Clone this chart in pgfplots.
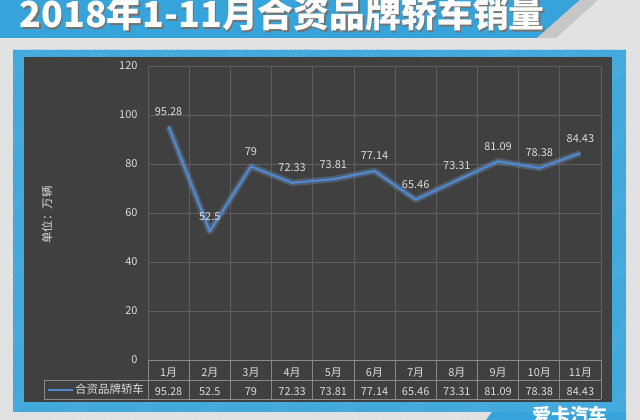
\documentclass[border=0pt]{standalone}
\usepackage{fontspec}
\setmainfont{Noto Sans CJK SC}
\usepackage{pgfplots}
\pgfplotsset{compat=1.18}
\usetikzlibrary{patterns}

\definecolor{bg}{HTML}{E3E3E3}
\definecolor{frameblue}{HTML}{36A4DA}
\definecolor{panel}{HTML}{404040}
\definecolor{gridc}{HTML}{5E5E5E}
\definecolor{txt}{HTML}{DCDCDC}
\definecolor{lineblue}{HTML}{5089CF}
\definecolor{tabline}{HTML}{8A8A8A}

\begin{document}
\begin{tikzpicture}
\useasboundingbox (0,0) rectangle (640bp,420bp);
\clip (0,0) rectangle (640bp,420bp);
\begin{scope}[x=1bp,y=-1bp,yshift=420bp]
\fill[bg] (0,0) rectangle (640,420);
\fill[pattern=north east lines, pattern color=black!12] (0,0) rectangle (640,420);
% title band
\fill[frameblue] (0,0) -- (580,0) -- (537,38) -- (0,38) -- cycle;
\fill[black!22] (580,0) -- (598,0) -- (556,38) -- (537,38) -- cycle;
\node[anchor=base west, text=black!55, font=\fontsize{36}{36}\selectfont\bfseries] at (17.5,29.5) {2018年1-11月合资品牌轿车销量};
\node[anchor=base west, text=white, font=\fontsize{36}{36}\selectfont\bfseries] at (16,28) {2018年1-11月合资品牌轿车销量};
% frame
\fill[frameblue] (13,50) rectangle (626,412);
\fill[frameblue] (492,412) -- (626,412) -- (626,420) -- (486,420) -- cycle;
\fill[pattern=north east lines, pattern color=white!25!frameblue] (13,50) rectangle (626,412);
\fill[panel] (24,57) rectangle (612,402);
% logo
\node[anchor=base, text=white, font=\fontsize{19}{19}\selectfont\bfseries] at (570,423) {爱卡汽车};
\end{scope}

\begin{axis}[
  at={(148bp,60bp)}, anchor=south west,
  scale only axis, width=453bp, height=294bp,
  xmin=0.5, xmax=11.5, ymin=0, ymax=120,
  ytick={0,20,...,120},
  xtick={1,...,11},
  xticklabels={{1月\\95.28},{2月\\52.5},{3月\\79},{4月\\72.33},{5月\\73.81},{6月\\77.14},{7月\\65.46},{8月\\73.31},{9月\\81.09},{10月\\78.38},{11月\\84.43}},
  minor xtick={0.5,1.5,...,11.5},
  xminorgrids, ymajorgrids,
  grid style={gridc, line width=0.8bp},
  minor grid style={gridc, line width=0.8bp},
  axis line style={draw=none},
  major tick style={draw=none}, minor tick style={draw=none},
  clip=false,
  /pgf/number format/assume math mode=true,
  yticklabel style={font=\fontsize{11}{13}\selectfont, text=txt, xshift=-7bp},
  xticklabel style={font=\fontsize{11}{19}\selectfont, text=txt, align=center, anchor=north, yshift=-4bp},
]
\addplot[lineblue!80!white, opacity=0.3, line width=6.5bp, line join=round, forget plot] coordinates {
(1,95.28) (2,52.5) (3,79) (4,72.33) (5,73.81) (6,77.14) (7,65.46) (8,73.31) (9,81.09) (10,78.38) (11,84.43)};
\addplot[lineblue, line width=2.2bp, line join=round, mark=none,
  nodes near coords,
  every node near coord/.append style={font=\fontsize{11}{13}\selectfont, text=txt, anchor=center, yshift=15bp}] coordinates {
(1,95.28) (2,52.5) (3,79) (4,72.33) (5,73.81) (6,77.14) (7,65.46) (8,73.31) (9,81.09) (10,78.38) (11,84.43)};
\end{axis}

\begin{scope}[x=1bp,y=-1bp,yshift=420bp]
% data table lines
\foreach \k in {0,...,11} \draw[tabline, line width=0.8bp] ({148+41.1818*\k},360) -- ({148+41.1818*\k},399);
\draw[tabline, line width=0.8bp] (148,360) -- (601,360);
\draw[tabline, line width=0.8bp] (44,380) -- (601,380);
\draw[tabline, line width=0.8bp] (44,399) -- (601,399);
\draw[tabline, line width=0.8bp] (44,380) -- (44,399);
\draw[lineblue, line width=1.5bp] (48,390) -- (73,390);
\node[anchor=west, inner sep=0, text=txt, font=\fontsize{11.5}{13}\selectfont] at (75,389.5) {合资品牌轿车};
\node[rotate=90, text=txt, font=\fontsize{11.5}{13}\selectfont] at (47,215) {单位：万辆};
\end{scope}
\end{tikzpicture}
\end{document}
